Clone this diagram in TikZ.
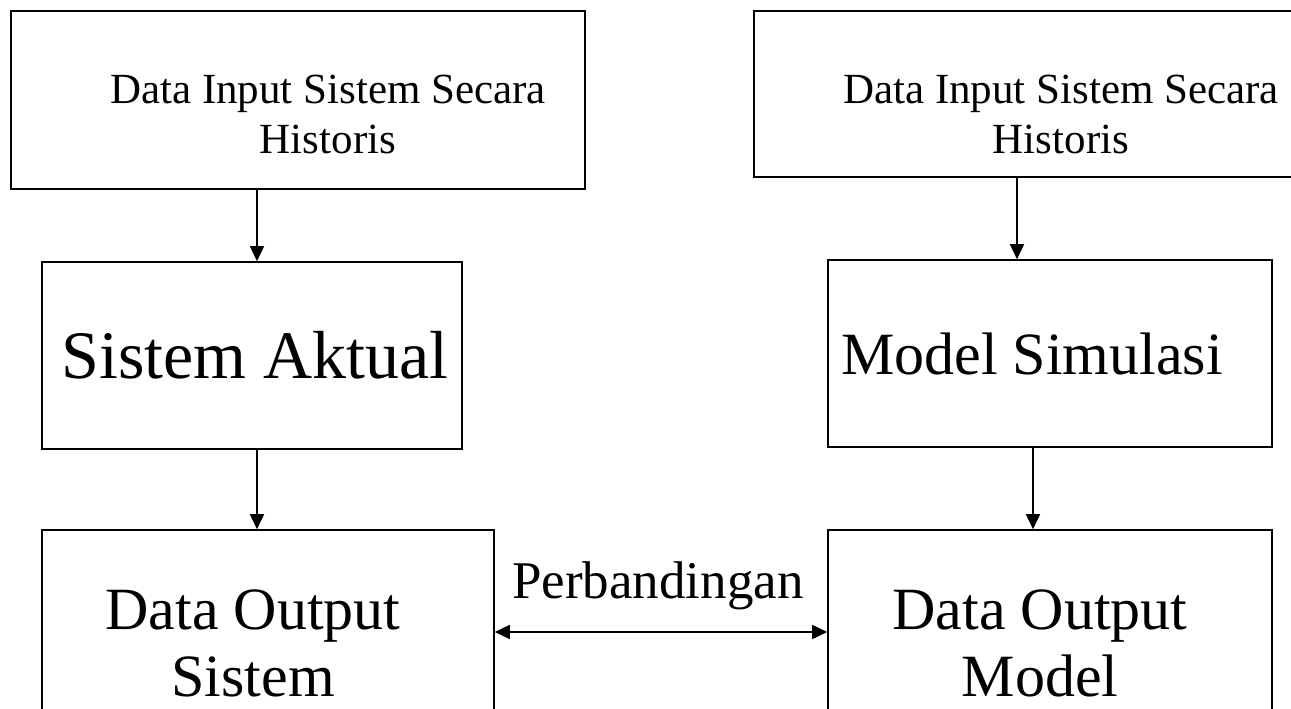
\documentclass[tikz,border=0pt]{standalone}
\usepackage{fontspec}
\setmainfont{Liberation Serif}
\usetikzlibrary{arrows.meta}

\begin{document}
\begin{tikzpicture}[x=1pt,y=-1pt,
kasten/.style={draw, line width=1.6pt, inner sep=0pt},
tulisan/.style={align=center, inner sep=0pt},
pfeil/.style={-{Triangle[length=15pt,width=14pt]}, line width=1.6pt},
pfeilzwei/.style={{Triangle[length=15pt,width=14pt]}-{Triangle[length=15pt,width=14pt]}, line width=1.6pt},
]

\useasboundingbox (0,0) rectangle (1291,709);

% boxes
\node [kasten, minimum width=574pt, minimum height=178pt] (inTL) at (298,100){};
\node [kasten, minimum width=546pt, minimum height=166pt] (inTR) at (1027,94){};
\node [kasten, minimum width=420pt, minimum height=187pt] (sysAct) at (252,355.5){};
\node [kasten, minimum width=444pt, minimum height=187pt] (simMod) at (1050,353.5){};
\node [kasten, minimum width=452pt, minimum height=190pt] (outSys) at (268,625){};
\node [kasten, minimum width=444pt, minimum height=190pt] (outMod) at (1050,625){};

% texts
\node [tulisan, font=\fontsize{43}{50}\selectfont] (tTL) at (328,114){Data Input Sistem Secara\\Historis};
\node [tulisan, font=\fontsize{43}{50}\selectfont] (tTR) at (1061,114){Data Input Sistem Secara\\Historis};
\node [tulisan, anchor=base, font=\fontsize{68}{78}\selectfont] (tAct) at (255,378){Sistem Aktual};
\node [tulisan, anchor=base, font=\fontsize{60}{70}\selectfont] (tSim) at (1032,374){Model Simulasi};
\node [tulisan, font=\fontsize{60}{67}\selectfont] (tOS) at (253,643){Data Output\\Sistem};
\node [tulisan, font=\fontsize{60}{67}\selectfont] (tOM) at (1040,643){Data Output\\Model};
\node [tulisan, anchor=base, font=\fontsize{53}{60}\selectfont] (tCmp) at (658,598){Perbandingan};

% arrows
\draw [pfeil] ([xshift=-41pt]inTL.south) -- ([xshift=-41pt]inTL.south |- sysAct.north);
\draw [pfeil] ([xshift=-10pt]inTR.south) -- ([xshift=-10pt]inTR.south |- simMod.north);
\draw [pfeil] ([xshift=5pt]sysAct.south) -- ([xshift=5pt]sysAct.south |- outSys.north);
\draw [pfeil] ([xshift=-17pt]simMod.south) -- ([xshift=-17pt]simMod.south |- outMod.north);
\draw [pfeilzwei] ([yshift=-7pt]outSys.east) -- ([yshift=-7pt]outMod.west);
\end{tikzpicture}
\end{document}
